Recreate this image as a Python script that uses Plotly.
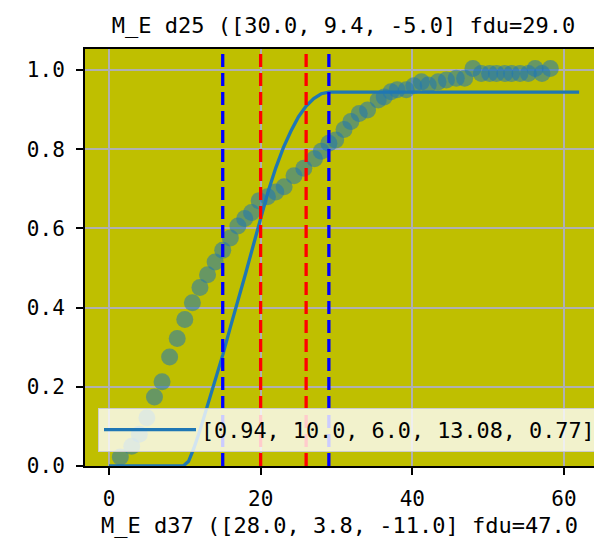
"""Cumulative fit chart: M_E d25 vs M_E d37."""

import plotly.graph_objects as go

# Colours (matplotlib-like)
OLIVE_BG = "#bfbf00"
C0_BLUE = "#1f77b4"
GRID_GRAY = "#b0b0b0"
BLACK = "#000000"
FONT = "DejaVu Sans Mono"

TITLE = "M_E d25 ([30.0, 9.4, -5.0] fdu=29.0"
X_TITLE = "M_E d37 ([28.0, 3.8, -11.0] fdu=47.0"
LEGEND_LABEL = "[0.94, 10.0, 6.0, 13.08, 0.77]"

# Observed cumulative points
obs_x = [1.5, 3.0, 4.0, 5.0, 6.0, 7.0, 8.0, 9.0, 10.0, 11.0, 12.0, 13.0,
         14.0, 15.0, 16.0, 17.0, 17.9, 18.8, 19.8, 20.9, 22.0, 23.1, 24.4,
         25.7, 27.1, 28.0, 29.0, 29.9, 31.0, 31.9, 33.0, 34.1, 35.5, 36.3,
         37.2, 38.0, 39.2, 40.2, 41.2, 42.1, 43.4, 44.5, 45.8, 46.9, 48.0,
         49.1, 50.2, 51.1, 52.2, 53.1, 54.2, 55.3, 56.2, 57.1, 58.2]
obs_y = [0.023, 0.050, 0.080, 0.122, 0.174, 0.213, 0.275, 0.322, 0.370,
         0.412, 0.451, 0.483, 0.515, 0.545, 0.576, 0.606, 0.625, 0.640,
         0.670, 0.680, 0.692, 0.705, 0.733, 0.752, 0.776, 0.795, 0.815,
         0.823, 0.850, 0.870, 0.890, 0.899, 0.924, 0.932, 0.945, 0.950,
         0.950, 0.960, 0.970, 0.962, 0.970, 0.975, 0.979, 0.979, 1.004,
         0.991, 0.991, 0.991, 0.991, 0.991, 0.991, 0.991, 1.004, 0.991,
         1.004]

# Fitted curve
fit_x = [0, 9.8, 10.5, 11.2, 12.0, 12.7, 13.5, 14.3, 15.0, 16.0, 17.0,
         18.0, 19.0, 20.0, 21.0, 22.0, 23.0, 24.0, 25.0, 26.0, 27.0, 28.0,
         29.0, 62.0]
fit_y = [0, 0, 0.012, 0.045, 0.09, 0.133, 0.185, 0.234, 0.28, 0.35, 0.415,
         0.485, 0.555, 0.625, 0.694, 0.753, 0.804, 0.846, 0.882, 0.909,
         0.928, 0.940, 0.944, 0.944]

# Vertical reference lines
blue_lines = [15, 29]
red_lines = [20, 26]

fig = go.Figure()

fig.add_trace(
    go.Scatter(
        x=obs_x,
        y=obs_y,
        mode="markers",
        marker=dict(color=C0_BLUE, size=17, opacity=0.55, line=dict(width=0)),
        showlegend=False,
    )
)

fig.add_trace(
    go.Scatter(
        x=fit_x,
        y=fit_y,
        mode="lines",
        name=LEGEND_LABEL,
        line=dict(color=C0_BLUE, width=3.3),
    )
)

for xv, col in [(x, "blue") for x in blue_lines] + [(x, "red") for x in red_lines]:
    fig.add_shape(
        type="line",
        xref="x",
        yref="paper",
        x0=xv,
        x1=xv,
        y0=0,
        y1=1,
        line=dict(color=col, width=3.3, dash="13px,6px"),
        layer="above",
    )

fig.update_layout(
    width=594,
    height=543,
    margin=dict(l=85, r=0, t=49, b=77, autoexpand=False),
    plot_bgcolor=OLIVE_BG,
    paper_bgcolor="#FFFFFF",
    font=dict(family=FONT, color=BLACK, size=21),
    title=dict(
        text=TITLE,
        font=dict(family=FONT, size=22, color=BLACK),
        x=0.508,
        xanchor="center",
        xref="paper",
        y=1 - 25 / 543,
        yanchor="middle",
        yref="container",
    ),
    xaxis=dict(
        range=[-3.16, 63.96],
        tickvals=[0, 20, 40, 60],
        showgrid=True,
        gridcolor=GRID_GRAY,
        gridwidth=1.5,
        zeroline=False,
        showline=True,
        linecolor=BLACK,
        linewidth=2,
        mirror=True,
        ticks="outside",
        ticklen=7,
        tickwidth=2,
        tickcolor=BLACK,
        ticklabelstandoff=6,
        tickfont=dict(size=21),
        automargin=False,
        title=dict(text=X_TITLE, font=dict(size=22), standoff=7),
    ),
    yaxis=dict(
        range=[0, 1.053],
        tickvals=[0, 0.2, 0.4, 0.6, 0.8, 1.0],
        tickformat=".1f",
        showgrid=True,
        gridcolor=GRID_GRAY,
        gridwidth=1.5,
        zeroline=False,
        showline=True,
        linecolor=BLACK,
        linewidth=2,
        ticks="outside",
        ticklen=7,
        tickwidth=2,
        tickcolor=BLACK,
        ticklabelstandoff=7,
        tickfont=dict(size=21),
        automargin=False,
    ),
    legend=dict(
        x=13 / 509,
        y=58 / 417,
        xanchor="left",
        yanchor="top",
        bgcolor="rgba(255,255,255,0.8)",
        bordercolor="#cccccc",
        borderwidth=1,
        itemwidth=92,
        font=dict(family=FONT, size=21.8, color=BLACK),
    ),
)

# drop the default 8px body margin so the figure fills the window exactly
fig.write_html(
    "out.html",
    config={"displayModeBar": False},
    post_script="document.body.style.margin = '0';",
)
